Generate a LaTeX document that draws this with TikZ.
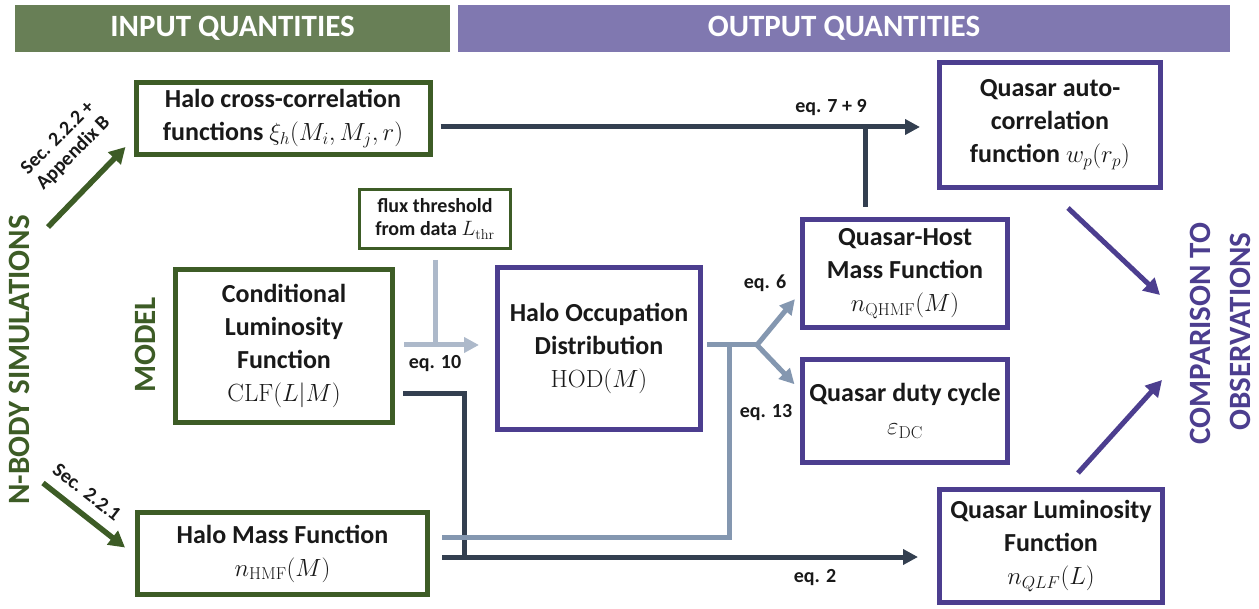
\documentclass[tikz,border=0pt]{standalone}
\usepackage[no-math]{fontspec}
\setmainfont{Carlito}
\usetikzlibrary{arrows.meta,calc}
\definecolor{hdrgreen}{RGB}{104,127,86}
\definecolor{hdrpurple}{RGB}{128,120,176}
\definecolor{boxgreen}{RGB}{61,92,38}
\definecolor{boxpurple}{RGB}{76,62,143}
\definecolor{navy}{RGB}{51,63,80}
\definecolor{steel}{RGB}{132,151,176}
\definecolor{lightblue}{RGB}{173,185,202}
\definecolor{ink}{RGB}{25,25,25}
\begin{document}
\begin{tikzpicture}[x=1pt,y=-1pt,
  box/.style={draw, line width=5pt, fill=white, align=center, inner sep=0pt, text=ink,
    font=\fontsize{26}{33}\selectfont\bfseries},
  gbox/.style={box, draw=boxgreen},
  pbox/.style={box, draw=boxpurple},
  hdr/.style={inner sep=0pt, text=white, font=\fontsize{31}{36}\selectfont\bfseries, minimum height=47pt},
  biglbl/.style={inner sep=0pt, rotate=90, anchor=base, font=\fontsize{31}{36}\selectfont\bfseries},
  eqlbl/.style={inner sep=0pt, text=ink, font=\fontsize{20}{24}\selectfont\bfseries},
  seclbl/.style={inner sep=0pt, text=ink, align=center, font=\fontsize{20}{22}\selectfont\bfseries},
  arrowhd/.style={-{Triangle[length=15pt,width=15pt]}},
  navyln/.style={draw=navy, line width=5pt},
  steelln/.style={draw=steel, line width=5pt},
  lightln/.style={draw=lightblue, line width=5pt},
  greenarr/.style={draw=boxgreen, line width=5.5pt, -{Triangle[length=16pt,width=17pt]}},
  purparr/.style={draw=boxpurple, line width=5pt, -{Triangle[length=16pt,width=17pt]}},
]
\useasboundingbox (0,0) rectangle (1259,609);

% column headers
\node[hdr, fill=hdrgreen, minimum width=435pt] (hin) at (232.5,28.5) {INPUT QUANTITIES};
\node[hdr, fill=hdrpurple, minimum width=772pt] (hout) at (844,28.5) {OUTPUT QUANTITIES};

% side labels
\node[biglbl, text=boxgreen] (nbody) at (29,360) {N-BODY SIMULATIONS};
\node[biglbl, text=boxgreen] (model) at (155,345) {MODEL};
\node[biglbl, text=boxpurple] (cmpA) at (1210,333.5) {COMPARISON TO};
\node[biglbl, text=boxpurple] (cmpB) at (1250,331.5) {OBSERVATIONS};

% input boxes
\node[gbox, minimum width=294pt, minimum height=72pt] (xi) at (283,118.5)
  {Halo cross-correlation\\functions $\xi_h(M_i,M_j,r)$};
\node[gbox, line width=3pt, minimum width=151pt, minimum height=59pt,
  font=\fontsize{20}{23}\selectfont\bfseries] (flux) at (435,219)
  {flux threshold\\from data $L_{\mathrm{thr}}$};
\node[gbox, minimum width=217pt, minimum height=153pt] (clf) at (284,346)
  {Conditional\\Luminosity\\Function\\$\mathrm{CLF}(L|M)$};
\node[gbox, minimum width=290pt, minimum height=82pt] (hmf) at (282.5,553.5)
  {Halo Mass Function\\$n_{\mathrm{HMF}}(M)$};

% output boxes
\node[pbox, minimum width=203pt, minimum height=162pt] (hod) at (599,348.5)
  {Halo Occupation\\Distribution\\$\mathrm{HOD}(M)$};
\node[pbox, minimum width=205pt, minimum height=108pt] (qhmf) at (905,273.5)
  {Quasar-Host\\Mass Function\\$n_{\mathrm{QHMF}}(M)$};
\node[pbox, minimum width=205pt, minimum height=103pt] (duty) at (905,411)
  {Quasar duty cycle\\$\varepsilon_{\mathrm{DC}}$};
\node[pbox, minimum width=221pt, minimum height=125pt] (wp) at (1050,125)
  {Quasar auto-\\correlation\\function $w_p(r_p)$};
\node[pbox, minimum width=223pt, minimum height=113pt] (qlf) at (1051,546)
  {Quasar Luminosity\\Function\\$n_{QLF}(L)$};

% reference lines for the connectors
\coordinate (yA) at (0,127);
\coordinate (jA) at (865,127);
\coordinate (cB) at (464,394);
\coordinate (yC) at (0,557);
\coordinate (yD) at (0,537);
\coordinate (vx) at (729,0);
\coordinate (fork) at (757,345);
\coordinate (yE) at (0,293);
\coordinate (yG) at (0,390);
\coordinate (yF) at (0,345);
\coordinate (simA) at (48,227);
\coordinate (simB) at (43,483);
\coordinate (obsA) at (1160,295);
\coordinate (obsB) at (1162,380);

% simulations feed the input quantities
\draw[greenarr] (simA) -- ($(xi.south west)+(-8,-10)$);
\draw[greenarr] (simB) -- ($(hmf.west)+(-10,-6)$);
\node[seclbl, rotate=45] (secA) at (66,146) {Sec. 2.2.2 +\\Appendix B};
\node[seclbl, rotate=-38] (secB) at (87,492) {Sec. 2.2.1};

% clustering path
\draw[navyln, arrowhd, shorten <=8pt, shorten >=17pt] (xi.east |- yA) -- (wp.west |- yA);
\draw[navyln, shorten <=10pt] (qhmf.north -| jA) -- (jA);
\node[eqlbl] (eqA) at (831,108) {eq. 7 + 9};

% luminosity function path
\draw[navyln, shorten <=8pt] (clf.east |- cB) -- (cB) -- (cB |- yC);
\draw[navyln, arrowhd, shorten <=12pt, shorten >=19pt] (hmf.east |- yC) -- (qlf.west |- yC);
\node[eqlbl] (eqB) at (815,578) {eq. 2};

% CLF + threshold -> HOD
\draw[lightln, arrowhd, shorten <=9pt, shorten >=16pt] (clf.east |- yF) -- (hod.west |- yF);
\draw[lightln, shorten <=10pt] (flux.south) -- (flux.south |- yF);
\node[eqlbl] (eqC) at (435,364) {eq. 10};

% HOD + HMF -> host mass function and duty cycle
\draw[steelln, shorten <=12pt] (hmf.east |- yD) -- (vx |- yD) -- (vx |- fork);
\draw[steelln, shorten <=4pt] (hod.east |- fork) -- (fork);
\draw[steelln, arrowhd, shorten >=8pt] (fork) -- (qhmf.west |- yE);
\draw[steelln, arrowhd, shorten >=8pt] (fork) -- (duty.west |- yG);
\node[eqlbl] (eqD) at (765,283) {eq. 6};
\node[eqlbl] (eqE) at (766,413) {eq. 13};

% comparison with observations
\draw[purparr] ($(wp.south)+(18,18)$) -- (obsA);
\draw[purparr] ($(qlf.north)+(27,-14)$) -- (obsB);
\end{tikzpicture}
\end{document}
